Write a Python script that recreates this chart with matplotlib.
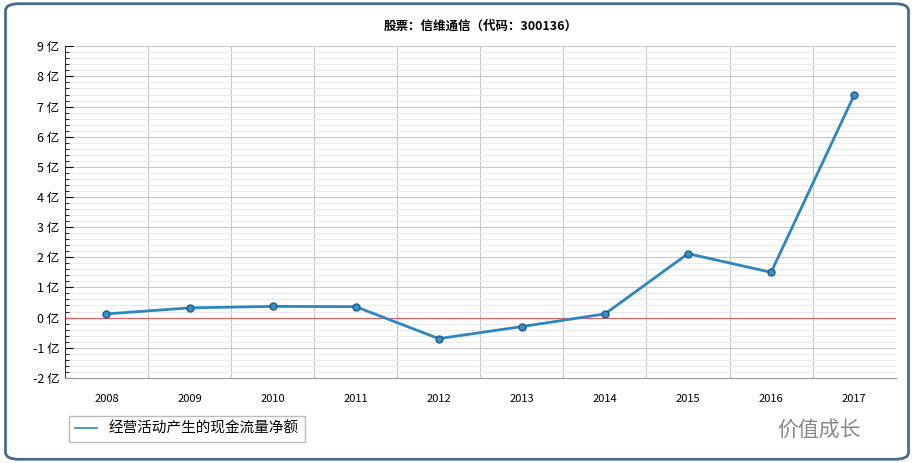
import matplotlib
matplotlib.use('Agg')
import matplotlib.pyplot as plt
from matplotlib.patches import FancyBboxPatch
from matplotlib.lines import Line2D
from matplotlib.ticker import MultipleLocator, FixedLocator
import numpy as np

plt.rcParams['font.family'] = ['Noto Sans CJK SC', 'DejaVu Sans']

years = ['2008', '2009', '2010', '2011', '2012', '2013', '2014', '2015', '2016', '2017']
cash_flow = [0.12, 0.32, 0.37, 0.36, -0.70, -0.30, 0.12, 2.12, 1.50, 7.38]
y_ticks = list(range(-2, 10))
y_labels = ['%d 亿' % v for v in y_ticks]

fig = plt.figure(figsize=(9.14, 4.63), dpi=100)
fig.patches.append(FancyBboxPatch((0.006, 0.008), 0.988, 0.984, boxstyle='round,pad=0,rounding_size=0.015',
                                  transform=fig.transFigure, fill=False, edgecolor='#4a6a8c', linewidth=2))
ax = fig.add_axes([0.071, 0.184, 0.909, 0.716])
x = np.arange(len(years))
ax.set_xlim(-0.5, len(years) - 0.5)
ax.set_ylim(-2, 9)
ax.yaxis.set_major_locator(FixedLocator(y_ticks))
ax.yaxis.set_minor_locator(MultipleLocator(0.2))
ax.set_yticks(y_ticks, y_labels)
ax.set_xticks(x, years)
ax.xaxis.set_minor_locator(FixedLocator(x[:-1] + 0.5))
ax.grid(which='minor', axis='y', color='#ebebeb', linewidth=0.8)
ax.grid(which='major', axis='y', color='#c8c8c8', linewidth=0.8)
ax.grid(which='minor', axis='x', color='#c8c8c8', linewidth=0.8)
ax.tick_params(axis='x', which='both', length=0, labelsize=8, pad=12)
ax.tick_params(axis='y', which='major', length=6, labelsize=9, direction='in', pad=4)
ax.tick_params(axis='y', which='minor', length=3, direction='in')
ax.set_axisbelow(True)
for s in ['top', 'right']:
    ax.spines[s].set_visible(False)
ax.spines['left'].set_color('#333333')
ax.spines['bottom'].set_color('#999999')
ax.axhline(0, color='#e06060', linewidth=0.8)
ax.plot(x, cash_flow, color='#2e86c1', linewidth=2, marker='o', markersize=5,
        markerfacecolor='#3d8fc4', markeredgecolor='#1d5f8a')
ax.set_title('股票：信维通信（代码：300136）', fontsize=9, fontweight='bold', pad=12)
handle = Line2D([], [], color='#2e86c1', linewidth=1.2)
fig.legend(handles=[handle], labels=['经营活动产生的现金流量净额'], loc='lower left',
           bbox_to_anchor=(0.068, 0.03), fontsize=10.5, fancybox=False, edgecolor='#aaaaaa',
           handlelength=1.5)
fig.text(0.85, 0.06, '价值成长', fontsize=15, color='#888888')
fig.savefig('out.png', dpi=100)
